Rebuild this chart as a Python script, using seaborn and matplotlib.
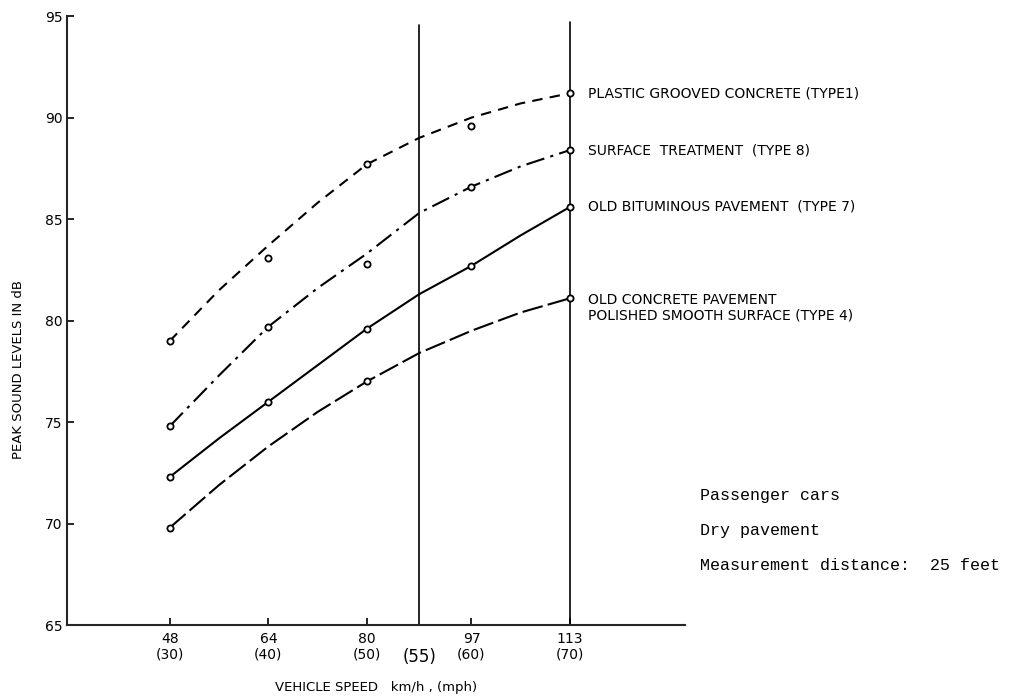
import pandas as pd
import matplotlib.pyplot as plt
import seaborn as sns

# tick positions (km/h) and labels
speed_ticks = [48, 64, 80, 97, 113]
tick_labels = ['48\n(30)', '64\n(40)', '80\n(50)', '97\n(60)', '113\n(70)']
limit_55 = 88.5

# measured points (open circles)
pts_plastic = [79.0, 83.1, 87.7, 89.6, 91.2]
pts_surface = [74.8, 79.7, 82.8, 86.6, 88.4]
pts_bitum = [72.3, 76.0, 79.6, 82.7, 85.6]
pts_concrete_x = [48, 80, 113]
pts_concrete = [69.8, 77.0, 81.1]

# drawn curves
curve_x = [48, 56, 64, 72, 80, 88.5, 97, 105, 113]
curve_plastic = [79.0, 81.5, 83.7, 85.8, 87.7, 89.0, 90.0, 90.7, 91.2]
curve_surface = [74.8, 77.3, 79.7, 81.6, 83.3, 85.3, 86.6, 87.6, 88.4]
curve_bitum = [72.3, 74.2, 76.0, 77.8, 79.6, 81.3, 82.7, 84.2, 85.6]
curve_concrete = [69.8, 71.9, 73.8, 75.5, 77.0, 78.4, 79.5, 80.4, 81.1]

labels = ['PLASTIC GROOVED CONCRETE (TYPE1)',
          'SURFACE  TREATMENT  (TYPE 8)',
          'OLD BITUMINOUS PAVEMENT  (TYPE 7)',
          'OLD CONCRETE PAVEMENT\nPOLISHED SMOOTH SURFACE (TYPE 4)']

notes = ['Passenger cars', 'Dry pavement', 'Measurement distance:  25 feet']

sns.set_style('ticks')
plt.rcParams['font.family'] = ['DejaVu Sans']
plt.rcParams['text.color'] = 'black'
plt.rcParams['xtick.color'] = 'black'
plt.rcParams['ytick.color'] = 'black'
plt.rcParams['axes.labelcolor'] = 'black'

fig = plt.figure(figsize=(10.15, 7), dpi=100)
ax = fig.add_axes([0.066, 0.107, 0.609, 0.870])

curves = [(curve_plastic, (0, (5, 3.5))),
          (curve_surface, (0, (9, 3, 1.5, 3))),
          (curve_bitum, '-'),
          (curve_concrete, (0, (10, 2.5)))]
for yv, ls in curves:
    sns.lineplot(x=curve_x, y=yv, ax=ax, color='black', linewidth=1.5,
                 linestyle=ls, sort=False)

for xs, ys in [(speed_ticks, pts_plastic), (speed_ticks, pts_surface),
               (speed_ticks, pts_bitum), (pts_concrete_x, pts_concrete)]:
    sns.scatterplot(x=xs, y=ys, ax=ax, marker='o', s=20, facecolor='white',
                    edgecolor='black', linewidth=1.3, zorder=5)

ax.axvline(limit_55, ymax=0.985, color='black', linewidth=1.2)
ax.axvline(speed_ticks[-1], ymax=0.99, color='black', linewidth=1.2)

ax.set_xlim(31.3, 131.7)
ax.set_ylim(65, 95)
ax.set_xticks(speed_ticks)
ax.set_xticklabels(tick_labels, fontsize=9.5, linespacing=1.1)
ax.set_yticks([65, 70, 75, 80, 85, 90, 95])
ax.tick_params(axis='both', direction='in', length=5, width=1.2, labelsize=10)
ax.tick_params(axis='x', pad=5)
ax.tick_params(axis='y', pad=3)
sns.despine(ax=ax)
for s in ['left', 'bottom']:
    ax.spines[s].set_linewidth(1.5)

ax.text(limit_55, -0.053, '(55)', transform=ax.get_xaxis_transform(),
        ha='center', va='center', fontsize=12)

ax.set_xlabel('VEHICLE SPEED   km/h , (mph)', fontsize=9.5, labelpad=14)
ax.set_ylabel('PEAK SOUND LEVELS IN dB', fontsize=9.5)
ax.yaxis.set_label_coords(-0.068, 0.42)

ends = [pts_plastic[-1], pts_surface[-1], pts_bitum[-1], pts_concrete[-1] - 0.45]
for lab, yv in zip(labels, ends):
    ax.text(speed_ticks[-1] + 3, yv, lab, fontsize=10, va='center', ha='left',
            linespacing=1.15, clip_on=False)

for i, t in enumerate(notes):
    fig.text(0.69, 0.292 - i * 0.05, t, fontsize=12, family='Liberation Mono',
             va='center', ha='left')

plt.savefig('out.png', dpi=100)
